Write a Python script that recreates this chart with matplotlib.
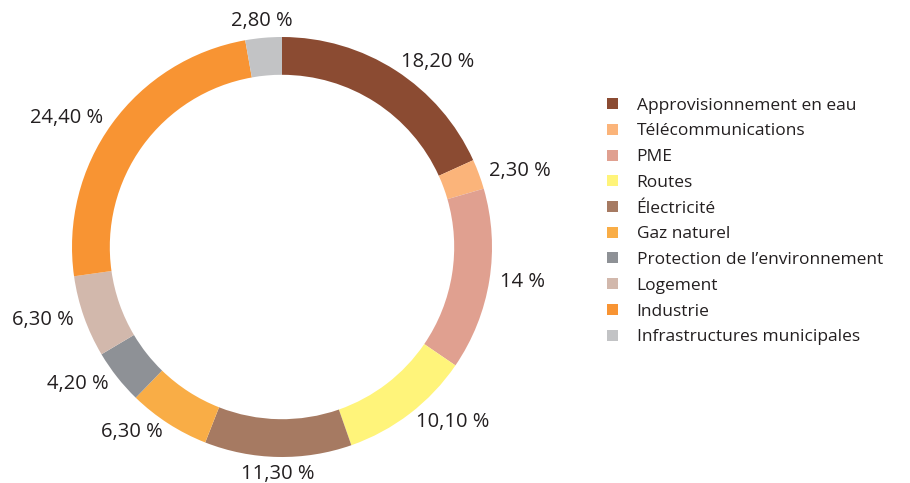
import numpy as np
import matplotlib
matplotlib.use("Agg")
import matplotlib.pyplot as plt
from matplotlib.patches import Patch

categories = ["Approvisionnement en eau", "Télécommunications", "PME", "Routes",
              "Électricité", "Gaz naturel", "Protection de l’environnement",
              "Logement", "Industrie", "Infrastructures municipales"]
values = [18.2, 2.3, 14.0, 10.1, 11.3, 6.3, 4.2, 6.3, 24.4, 2.8]
value_labels = ["18,20 %", "2,30 %", "14 %", "10,10 %", "11,30 %", "6,30 %",
                "4,20 %", "6,30 %", "24,40 %", "2,80 %"]
colors = ["#8B4B32", "#FBB47A", "#E0A090", "#FFF47A", "#A67A62", "#F9AD46",
          "#8E9196", "#D2B8AC", "#F89433", "#C2C3C5"]

plt.rcParams['font.family'] = ['Open Sans', 'DejaVu Sans']
text_color = "#231F20"

fig = plt.figure(figsize=(9.10, 4.83), dpi=100)
ax = fig.add_axes([0, 0, 1, 1])

cx, cy, R = 282, 236, 210
wedges, _ = ax.pie(values, colors=colors, startangle=90, counterclock=False,
                   center=(cx, cy), radius=R, frame=True,
                   wedgeprops=dict(width=R * 0.18, linewidth=0))
ax.set_xlim(0, 910)
ax.set_ylim(0, 483)
ax.set_aspect('equal')
ax.axis('off')

for w, lab in zip(wedges, value_labels):
    ang = np.deg2rad((w.theta1 + w.theta2) / 2)
    c, s = np.cos(ang), np.sin(ang)
    if abs(c) < 0.3:
        ha = 'center'
        r = R * 1.08
    else:
        ha = 'left' if c > 0 else 'right'
        r = R * 1.05
    x, y = cx + r * c, cy + r * s
    ax.text(x, y, lab, ha=ha, va='center', fontsize=14.5, color=text_color)

handles = [Patch(facecolor=col, edgecolor='none') for col in colors]
fig.legend(handles, categories, loc='upper left', bbox_to_anchor=(0.65, 0.83),
           frameon=False, fontsize=12.5, handlelength=0.6, handleheight=0.6,
           handletextpad=1.1, labelspacing=0.56, labelcolor=text_color)

fig.savefig("out.png", dpi=100)
